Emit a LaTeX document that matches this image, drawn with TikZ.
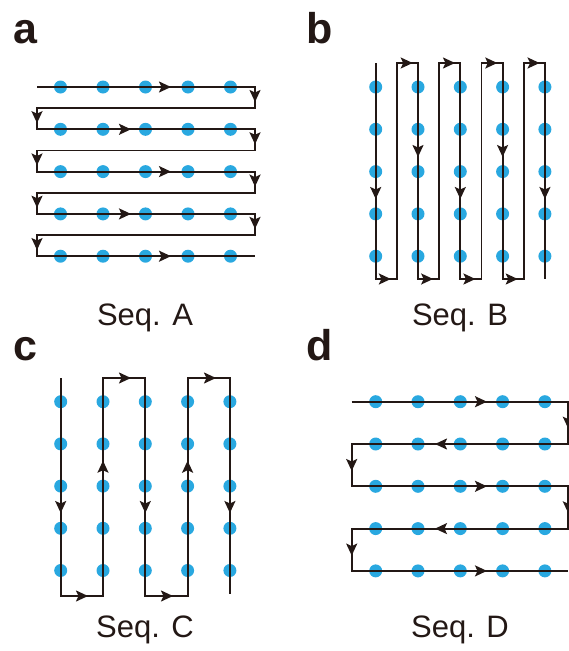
\documentclass[tikz,border=0pt]{standalone}
\usepackage{fontspec}
\setmainfont{Liberation Sans}
\usetikzlibrary{arrows.meta}
\definecolor{dotblue}{RGB}{41,168,224}
\definecolor{inkc}{RGB}{35,24,21}
\begin{document}
\begin{tikzpicture}[x=1pt,y=-1pt,
  dot/.style={circle,fill=dotblue,inner sep=0pt,minimum size=13pt},
  scan/.style={draw=inkc,line width=1.9pt},
  tipr/.style={draw=inkc,line width=1.9pt,-{Stealth[length=12pt,width=11pt,inset=2.5pt]}},
  panellabel/.style={font=\fontsize{43}{43}\selectfont\bfseries,text=inkc,inner sep=0pt,anchor=base},
  seqlabel/.style={font=\fontsize{31}{31}\selectfont,text=inkc,inner sep=0pt,anchor=base}]
\useasboundingbox (0,0) rectangle (569,651);

% labels
\node[panellabel] (la) at (25,43) {a};
\node[panellabel] (lb) at (320,43) {b};
\node[panellabel] (lc) at (25,360) {c};
\node[panellabel] (ld) at (320,360) {d};
\node[seqlabel] (sa) at (145,325) {Seq. A};
\node[seqlabel] (sb) at (460,325) {Seq. B};
\node[seqlabel] (sc) at (145,637) {Seq. C};
\node[seqlabel] (sd) at (460,637) {Seq. D};

% ---------- panel a ----------
\foreach \i in {0,...,4}
  \foreach \j in {0,...,4}
    \node[dot] (a-\i-\j) at ({60.5+42.5*\i},{87+42.3*\j}) {};
\draw[scan] (37,87) -- (255,87) -- (255,108.15) -- (37,108.15) -- (37,129.3)
  -- (255,129.3) -- (255,150.45) -- (37,150.45) -- (37,171.6)
  -- (255,171.6) -- (255,192.75) -- (37,192.75) -- (37,213.9)
  -- (255,213.9) -- (255,235.05) -- (37,235.05) -- (37,256.2) -- (255,256.2);
\foreach \j/\tx in {0/171,1/131,2/171,3/131,4/171}
  \draw[tipr] ({\tx-3},{87+42.3*\j}) -- (\tx,{87+42.3*\j});
\foreach \j in {0,...,3}{
  \draw[tipr] (255,{87+42.3*\j+12}) -- (255,{87+42.3*\j+15});
  \draw[tipr] (37,{108.15+42.3*\j+12}) -- (37,{108.15+42.3*\j+15});
}

% ---------- panel b ----------
\foreach \i in {0,...,4}
  \foreach \j in {0,...,4}
    \node[dot] (b-\i-\j) at ({375.7+42.3*\i},{87+42.3*\j}) {};
\draw[scan] (375.7,63) -- (375.7,279) -- (396.85,279) -- (396.85,63)
  -- (418,63) -- (418,279) -- (439.15,279) -- (439.15,63)
  -- (460.3,63) -- (460.3,279) -- (481.45,279) -- (481.45,63)
  -- (502.6,63) -- (502.6,279) -- (523.75,279) -- (523.75,63)
  -- (544.9,63) -- (544.9,279);
\foreach \i in {0,...,3}{
  \draw[tipr] ({375.7+42.3*(\i+1)-8.3},63) -- ({375.7+42.3*(\i+1)-5.3},63);
  \draw[tipr] ({396.85+42.3*\i-9},279) -- ({396.85+42.3*\i-6},279);
}
\foreach \i/\ty in {0/199,1/157,2/199,3/157,4/199}
  \draw[tipr] ({375.7+42.3*\i},{\ty-3}) -- ({375.7+42.3*\i},\ty);

% ---------- panel c ----------
\foreach \i in {0,...,4}
  \foreach \j in {0,...,4}
    \node[dot] (c-\i-\j) at ({60.7+42.3*\i},{401.7+42.2*\j}) {};
\draw[scan] (60.7,378) -- (60.7,596) -- (103,596) -- (103,378) -- (145.3,378)
  -- (145.3,596) -- (187.6,596) -- (187.6,378) -- (229.9,378) -- (229.9,594);
\draw[tipr] (128,378) -- (131,378);
\draw[tipr] (213,378) -- (216,378);
\draw[tipr] (85,596) -- (88,596);
\draw[tipr] (170,596) -- (173,596);
\foreach \i in {0,2,4}
  \draw[tipr] ({60.7+42.3*\i},510) -- ({60.7+42.3*\i},513);
\foreach \i in {1,3}
  \draw[tipr] ({60.7+42.3*\i},463.7) -- ({60.7+42.3*\i},460.7);

% ---------- panel d ----------
\foreach \i in {0,...,4}
  \foreach \j in {0,...,4}
    \node[dot] (d-\i-\j) at ({375.7+42.3*\i},{401.7+42.3*\j}) {};
\draw[scan] (351.7,401.7) -- (568.3,401.7) -- (568.3,444) -- (351.7,444)
  -- (351.7,486.3) -- (568.3,486.3) -- (568.3,528.6) -- (351.7,528.6)
  -- (351.7,570.9) -- (568.3,570.9);
\foreach \j in {0,2,4}
  \draw[tipr] (484,{401.7+42.3*\j}) -- (487,{401.7+42.3*\j});
\foreach \j in {1,3}
  \draw[tipr] (438,{401.7+42.3*\j}) -- (435,{401.7+42.3*\j});
\foreach \j in {0,2}{
  \draw[tipr] (568.3,{401.7+42.3*\j+24}) -- (568.3,{401.7+42.3*\j+27});
  \draw[tipr] (351.7,{444+42.3*\j+24}) -- (351.7,{444+42.3*\j+27});
}
\end{tikzpicture}
\end{document}
